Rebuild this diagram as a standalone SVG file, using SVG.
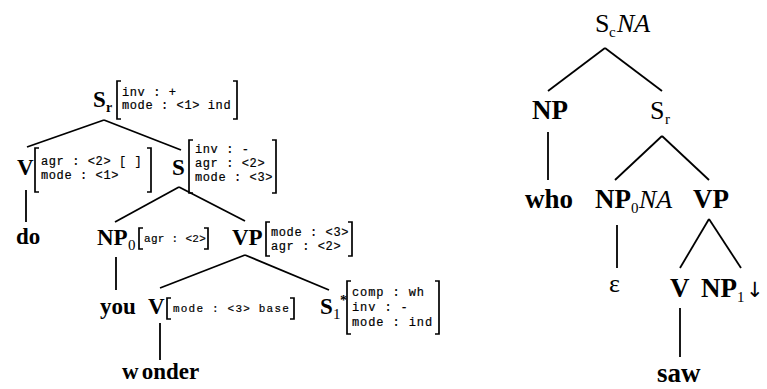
<svg xmlns="http://www.w3.org/2000/svg" width="767" height="389" viewBox="0 0 767 389">
<style>
.b{font-family:"Liberation Serif","Times New Roman",serif;font-weight:bold;font-size:23px;fill:#000}
.rb{font-family:"Liberation Serif","Times New Roman",serif;font-weight:bold;font-size:27px;fill:#000}
.rr{font-family:"Liberation Serif","Times New Roman",serif;font-size:26px;fill:#000}
.ri{font-family:"Liberation Serif","Times New Roman",serif;font-style:italic;font-size:26px;fill:#000}
.sub{font-family:"Liberation Serif","Times New Roman",serif;font-size:15px;fill:#000}
.subb{font-family:"Liberation Serif","Times New Roman",serif;font-weight:bold;font-size:14px;fill:#000}
.f{font-family:"Liberation Mono","Courier New",monospace;font-size:12px;letter-spacing:0.6px;fill:#000;stroke:#000;stroke-width:0.2}
.fs{font-family:"Liberation Mono","Courier New",monospace;font-size:11px;letter-spacing:0.3px;fill:#000;stroke:#000;stroke-width:0.2}
.fm{font-family:"Liberation Mono","Courier New",monospace;font-size:11px;letter-spacing:1.2px;fill:#000;stroke:#000;stroke-width:0.2}
.br{fill:none;stroke:#000;stroke-width:1.7}
.e{stroke:#000;stroke-width:1.8;fill:none}
</style>
<g id="connectors">
<line class="e" x1="104" y1="120" x2="27" y2="147"/>
<line class="e" x1="104" y1="120" x2="181" y2="150"/>
<line class="e" x1="26" y1="190" x2="26" y2="222"/>
<line class="e" x1="179" y1="187" x2="115" y2="222"/>
<line class="e" x1="179" y1="187" x2="245" y2="221"/>
<line class="e" x1="116" y1="257" x2="116" y2="290"/>
<line class="e" x1="245" y1="255" x2="160" y2="288"/>
<line class="e" x1="245" y1="255" x2="329" y2="290"/>
<line class="e" x1="160" y1="323" x2="160" y2="360"/>
<line class="e" x1="605" y1="48" x2="548" y2="91"/>
<line class="e" x1="605" y1="48" x2="662" y2="91"/>
<line class="e" x1="548" y1="132" x2="548" y2="180"/>
<line class="e" x1="662" y1="136" x2="615" y2="180"/>
<line class="e" x1="662" y1="136" x2="709" y2="180"/>
<line class="e" x1="617" y1="225" x2="617" y2="268"/>
<line class="e" x1="709" y1="219" x2="680" y2="268"/>
<line class="e" x1="709" y1="219" x2="741" y2="268"/>
<line class="e" x1="680" y1="308" x2="680" y2="357"/>
</g>
<g id="n_Sr">
<text class="b" x="93" y="107">S</text><text class="subb" x="106" y="112">r</text>
<path class="br" d="M121 81H117V119H121"/>
<text class="f" x="122" y="96">inv : +</text>
<text class="f" x="122" y="109">mode : &lt;1&gt; ind</text>
<path class="br" d="M233 81H237V119H233"/>
</g>
<g id="n_V1">
<text class="b" x="17" y="175">V</text>
<path class="br" d="M39 148H35V192H39"/>
<text class="f" x="41" y="165">agr : &lt;2&gt; [ ]</text>
<text class="f" x="41" y="179">mode : &lt;1&gt;</text>
<path class="br" d="M147 148H151V192H147"/>
</g>
<g id="n_do"><text class="b" x="16" y="244">do</text></g>
<g id="n_S">
<text class="b" x="172" y="175">S</text>
<path class="br" d="M193 140H189V193H193"/>
<text class="f" x="195" y="153">inv : -</text>
<text class="f" x="195" y="167">agr : &lt;2&gt;</text>
<text class="f" x="195" y="181">mode : &lt;3&gt;</text>
<path class="br" d="M272 140H276V193H272"/>
</g>
<g id="n_NP0">
<text class="b" x="97" y="245">NP</text><text class="sub" x="128" y="250">0</text>
<path class="br" d="M143 228H139V249H143"/>
<text class="fs" x="144" y="242">agr : &lt;2&gt;</text>
<path class="br" d="M204 228H208V249H204"/>
</g>
<g id="n_VP">
<text class="b" x="232" y="245">VP</text>
<path class="br" d="M270 222H266V256H270"/>
<text class="f" x="271" y="236">mode : &lt;3&gt;</text>
<text class="f" x="271" y="250">agr : &lt;2&gt;</text>
<path class="br" d="M348 222H352V256H348"/>
</g>
<g id="n_you"><text class="b" x="100" y="314">you</text></g>
<g id="n_V2">
<text class="b" x="148" y="314">V</text>
<path class="br" d="M171 298H167V319H171"/>
<text class="fm" x="173" y="312">mode : &lt;3&gt; base</text>
<path class="br" d="M290 298H294V319H290"/>
</g>
<g id="n_S1">
<text class="b" x="320" y="314">S</text><text class="sub" x="333" y="319">1</text><text class="subb" x="340" y="305">*</text>
<path class="br" d="M351 281H347V334H351"/>
<text class="f" x="352" y="296" style="letter-spacing:0.9px">comp : wh</text>
<text class="f" x="352" y="311" style="letter-spacing:0.9px">inv : -</text>
<text class="f" x="352" y="326" style="letter-spacing:0.9px">mode : ind</text>
<path class="br" d="M435 281H439V334H435"/>
</g>
<g id="n_wonder"><text class="b" x="122" y="379">w<tspan dx="3">onder</tspan></text></g>
<g id="r_Sc">
<text class="rr" x="595" y="32">S</text><text class="sub" x="609" y="37">c</text><text class="ri" x="617" y="32">NA</text>
</g>
<g id="r_NP"><text class="rb" x="532" y="119">NP</text></g>
<g id="r_Sr"><text class="rr" x="650" y="119">S</text><text class="sub" x="665" y="124">r</text></g>
<g id="r_who"><text class="rb" x="525" y="208">who</text></g>
<g id="r_NP0"><text class="rb" x="595" y="208">NP</text><text class="sub" x="631" y="213">0</text><text class="ri" x="639" y="208">NA</text></g>
<g id="r_VP"><text class="rb" x="693" y="208">VP</text></g>
<g id="r_eps"><text class="rr" x="609" y="292">ε</text></g>
<g id="r_V"><text class="rb" x="670" y="297">V</text></g>
<g id="r_NP1"><text class="rb" x="701" y="297">NP</text><text class="sub" x="737" y="302">1</text><text x="746" y="297" style="font-family:'DejaVu Sans',sans-serif;font-size:21px">↓</text></g>
<g id="r_saw"><text class="rb" x="657" y="382">saw</text></g>
</svg>
